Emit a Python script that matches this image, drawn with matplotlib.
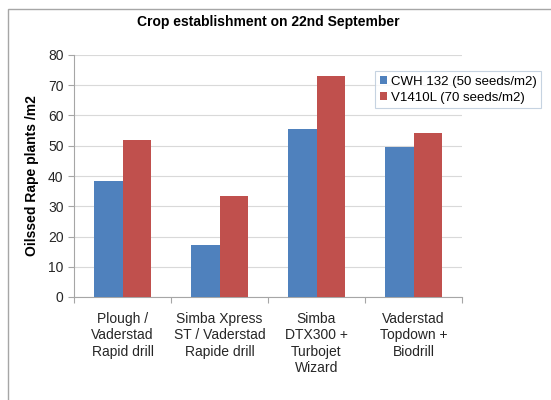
import numpy as np
import matplotlib.pyplot as plt
from matplotlib.patches import Rectangle

# data
methods = ['Plough /\nVaderstad\nRapid drill',
           'Simba Xpress\nST / Vaderstad\nRapide drill',
           'Simba\nDTX300 +\nTurbojet\nWizard',
           'Vaderstad\nTopdown +\nBiodrill']
cwh132 = [38.3, 17.3, 55.6, 49.6]
v1410l = [51.9, 33.4, 73.1, 54.3]
series_names = ['CWH 132 (50 seeds/m2)', 'V1410L (70 seeds/m2)']

plt.rcParams.update({
    'font.family': ['Liberation Sans', 'DejaVu Sans'],
    'font.size': 10,
})

fig = plt.figure(figsize=(5.51, 4.0), dpi=100)
fig.patch.set_facecolor('white')

# outer chart border (Excel style)
fig.patches.append(Rectangle((8 / 551, -0.01), 1.0, 1 - 9 / 400 + 0.01,
                             transform=fig.transFigure, fill=False,
                             edgecolor='#A6A6A6', linewidth=1.0, zorder=0))

ax = fig.add_axes([74 / 551, 1 - 297 / 400, 388 / 551, 242 / 400])

x = np.arange(len(methods))
w = 0.29
ax.bar(x - w / 2, cwh132, width=w, color='#4F81BD', label=series_names[0], zorder=3)
ax.bar(x + w / 2, v1410l, width=w, color='#C0504D', label=series_names[1], zorder=3)

ax.set_ylim(0, 80)
ax.set_yticks(np.arange(0, 81, 10))
ax.set_xlim(-0.5, len(methods) - 0.5)
ax.set_xticks(np.arange(-0.5, len(methods), 1.0))
ax.set_xticklabels([])
ax.set_xticks(x, minor=True)
ax.set_xticklabels(methods, minor=True, fontsize=10, linespacing=1.2, color='#262626')
ax.tick_params(axis='x', which='minor', length=0, pad=11)
ax.tick_params(axis='x', which='major', length=4, color='#A6A6A6')
ax.tick_params(axis='y', length=4, color='#A6A6A6', labelsize=10, labelcolor='#262626')

ax.grid(axis='y', color='#D9D9D9', linewidth=0.8, zorder=0)
for s in ['top', 'right']:
    ax.spines[s].set_visible(False)
ax.spines['left'].set_color('#A6A6A6')
ax.spines['bottom'].set_color('#A6A6A6')

fig.text(268 / 551, 1 - 22 / 400, 'Crop establishment on 22nd September',
         ha='center', va='center', fontsize=10, fontweight='bold')
fig.text(32 / 551, 1 - 176 / 400, 'Oilssed Rape plants /m2', rotation=90,
         ha='center', va='center', fontsize=10, fontweight='bold')

leg = fig.legend(loc='upper left', bbox_to_anchor=(375 / 551, 1 - 71 / 400),
                 fontsize=9.5, frameon=True, fancybox=False, handlelength=0.55,
                 handleheight=0.55, handletextpad=0.3, borderpad=0.35,
                 labelspacing=0.3, borderaxespad=0)
leg.get_frame().set_edgecolor('#B8C8DA')
leg.get_frame().set_linewidth(0.8)

plt.savefig('out.png', dpi=100, facecolor='white')
plt.close(fig)
